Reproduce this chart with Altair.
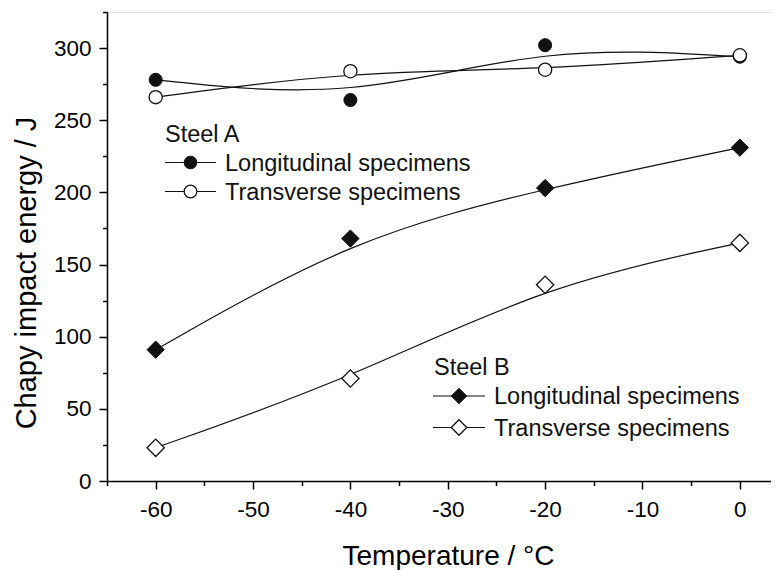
import altair as alt
import pandas as pd

# ---- data ----
temps = [-60, -40, -20, 0]
a_long = [278, 264, 302, 294]
a_trans = [266, 284, 285, 295]
b_long = [91, 168, 203, 231]
b_trans = [23, 71, 136, 165]

x_major = [-60, -50, -40, -30, -20, -10, 0]
x_minor = [-65, -55, -45, -35, -25, -15, -5]
y_major = [0, 50, 100, 150, 200, 250, 300]
y_minor = [25, 75, 125, 175, 225, 275, 325]

x_title = "Temperature / °C"
y_title = "Chapy impact energy / J"
steel_a = "Steel A"
steel_b = "Steel B"
lab_long = "Longitudinal specimens"
lab_trans = "Transverse specimens"

FONT = "Liberation Sans"


def frame(vals, name):
    return pd.DataFrame({"temp": temps, "energy": vals, "series": name})


df_al = frame(a_long, "A_long")
df_at = frame(a_trans, "A_trans")
df_bl = frame(b_long, "B_long")
df_bt = frame(b_trans, "B_trans")
df_all = pd.concat([df_al, df_at, df_bl, df_bt], ignore_index=True)

xs = alt.Scale(domain=[-65, 3.2], nice=False, zero=False)
ys = alt.Scale(domain=[0, 325], nice=False, zero=False)

x_axis_major = alt.Axis(
    orient="bottom", values=x_major, title=x_title, grid=False,
    domainColor="black", domainWidth=1.5, tickColor="black", tickWidth=1.5,
    tickSize=8, labelFont=FONT, labelFontSize=22.5, labelColor="black",
    labelPadding=9, labelFlush=False, labelOverlap=False,
    labelExpr="'' + datum.value",
    titleFont=FONT, titleFontSize=28, titleFontWeight="normal", titleColor="black",
    titleX=341, titleY=83, titleAlign="center", titleBaseline="alphabetic",
)
y_axis_major = alt.Axis(
    orient="left", values=y_major, title=y_title, grid=False,
    domainColor="black", domainWidth=1.5, tickColor="black", tickWidth=1.5,
    tickSize=8, labelFont=FONT, labelFontSize=22.5, labelColor="black",
    labelPadding=8, labelFlush=False, labelOverlap=False,
    labelExpr="'' + datum.value",
    titleFont=FONT, titleFontSize=29, titleFontWeight="normal", titleColor="black",
    titleX=-71.5, titleY=260.5, titleAlign="center", titleBaseline="alphabetic",
    titleAngle=270,
)
x_axis_minor = alt.Axis(
    orient="bottom", values=x_minor, title=None, labels=False, domain=False,
    grid=False, tickColor="black", tickWidth=1.5, tickSize=4.5,
)
y_axis_minor = alt.Axis(
    orient="left", values=y_minor, title=None, labels=False, domain=False,
    grid=False, tickColor="black", tickWidth=1.5, tickSize=4.5,
)

# fitted curves (B-spline through the measured points)
curves = alt.Chart(df_all).mark_line(
    interpolate="basis", color="#111111", strokeWidth=1.2
).encode(
    x=alt.X("temp:Q", scale=xs, axis=x_axis_major),
    y=alt.Y("energy:Q", scale=ys, axis=y_axis_major),
    detail="series:N",
)

minor = alt.Chart(df_all).mark_point(opacity=0).encode(
    x=alt.X("temp:Q", scale=xs, axis=x_axis_minor),
    y=alt.Y("energy:Q", scale=ys, axis=y_axis_minor),
)


def pts(df, shape, filled, size):
    if filled:
        m = alt.Chart(df).mark_point(shape=shape, filled=True, fill="#111111",
                                     stroke="#111111", strokeWidth=1, size=size, opacity=1)
    else:
        m = alt.Chart(df).mark_point(shape=shape, filled=True, fill="white",
                                     stroke="#111111", strokeWidth=1.3, size=size, opacity=1)
    return m.encode(
        x=alt.X("temp:Q", scale=xs, axis=None),
        y=alt.Y("energy:Q", scale=ys, axis=None),
    )


p_al = pts(df_al, "circle", True, 170)
p_at = pts(df_at, "circle", False, 175)
p_bl = pts(df_bl, "diamond", True, 300)
p_bt = pts(df_bt, "diamond", False, 300)

one = pd.DataFrame({"k": [0]})


def legend_text(txt, px, py):
    return alt.Chart(one).mark_text(
        text=txt, align="left", baseline="alphabetic", font=FONT, fontSize=23.5,
        color="#111111",
    ).encode(x=alt.value(px), y=alt.value(py))


def legend_row(x0, x1, yy, shape, filled, size, txt, tx):
    seg = alt.Chart(one).mark_rule(color="#111111", strokeWidth=1.2).encode(
        x=alt.value(x0), x2=alt.value(x1), y=alt.value(yy)
    )
    if filled:
        mk = alt.Chart(one).mark_point(shape=shape, filled=True, fill="#111111",
                                       stroke="#111111", strokeWidth=1, size=size, opacity=1)
    else:
        mk = alt.Chart(one).mark_point(shape=shape, filled=True, fill="white",
                                       stroke="#111111", strokeWidth=1.3, size=size, opacity=1)
    mk = mk.encode(x=alt.value((x0 + x1) / 2), y=alt.value(yy))
    return [seg, mk, legend_text(txt, tx, yy + 8)]


legend_layers = [legend_text(steel_a, 58, 129.5)]
legend_layers += legend_row(58, 109, 150.5, "circle", True, 160, lab_long, 118)
legend_layers += legend_row(58, 109, 179.5, "circle", False, 160, lab_trans, 118)
legend_layers += [legend_text(steel_b, 327, 363)]
legend_layers += legend_row(326, 378, 384, "diamond", True, 240, lab_long, 387)
legend_layers += legend_row(326, 378, 415.5, "diamond", False, 240, lab_trans, 387)

chart = alt.layer(
    curves, minor, p_al, p_at, p_bl, p_bt, *legend_layers
).resolve_axis(
    x="independent", y="independent"
).properties(
    width=664, height=469,
    autosize=alt.AutoSizeParams(type="none"),
    padding={"left": 99, "top": 4, "right": 0, "bottom": 89},
).configure_view(stroke=None).configure(background="white")

chart.save("out.html", embed_options={"renderer": "svg", "actions": False})
